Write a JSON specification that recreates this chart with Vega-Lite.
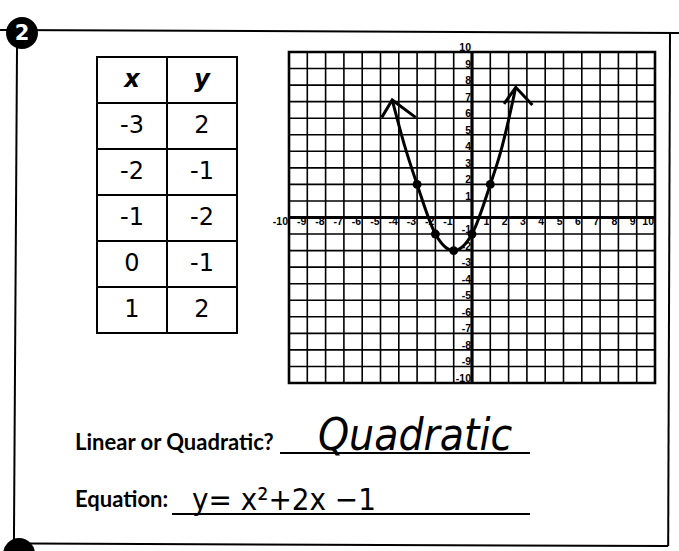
{
  "$schema": "https://vega.github.io/schema/vega-lite/v6.json",
  "width": 366,
  "height": 331,
  "autosize": {"type": "none"},
  "padding": {"left": 289, "top": 52, "right": 24, "bottom": 168},
  "background": "white",
  "config": {"view": {"stroke": null}},
  "datasets": {
    "pts": [
      {"x": -3, "y": 2},
      {"x": -2, "y": -1},
      {"x": -1, "y": -2},
      {"x": 0, "y": -1},
      {"x": 1, "y": 2}
    ],
    "hdr": [{"col": "x"}, {"col": "y"}],
    "grid": [
      {"g": -10}, {"g": -9}, {"g": -8}, {"g": -7}, {"g": -6}, {"g": -5}, {"g": -4},
      {"g": -3}, {"g": -2}, {"g": -1}, {"g": 0}, {"g": 1}, {"g": 2}, {"g": 3},
      {"g": 4}, {"g": 5}, {"g": 6}, {"g": 7}, {"g": 8}, {"g": 9}, {"g": 10}
    ],
    "ticks": [
      {"v": -10}, {"v": -9}, {"v": -8}, {"v": -7}, {"v": -6}, {"v": -5}, {"v": -4},
      {"v": -3}, {"v": -2}, {"v": -1}, {"v": 1}, {"v": 2}, {"v": 3},
      {"v": 4}, {"v": 5}, {"v": 6}, {"v": 7}, {"v": 8}, {"v": 9}, {"v": 10}
    ],
    "curve": [
      {"x": -4.36, "y": 7.1},
      {"x": -3.7, "y": 4.4},
      {"x": -3, "y": 2},
      {"x": -2, "y": -1},
      {"x": -1, "y": -2},
      {"x": 0, "y": -1},
      {"x": 1, "y": 2},
      {"x": 1.55, "y": 3.9},
      {"x": 2.0, "y": 5.9},
      {"x": 2.39, "y": 7.87}
    ],
    "arrows": [
      {"arm": "L", "x": -4.93, "y": 6.05},
      {"arm": "L", "x": -4.36, "y": 7.1},
      {"arm": "L", "x": -3.08, "y": 6.05},
      {"arm": "R", "x": 1.75, "y": 6.86},
      {"arm": "R", "x": 2.39, "y": 7.87},
      {"arm": "R", "x": 3.3, "y": 6.8}
    ],
    "one": [{}]
  },
  "resolve": {"scale": {"x": "independent", "y": "independent"}},
  "layer": [
    {
      "layer": [
        {
          "data": {"name": "grid"},
          "mark": {"type": "rule", "color": "black", "strokeWidth": 1.6},
          "encoding": {
            "x": {"field": "g", "type": "quantitative", "scale": {"domain": [-10, 10], "nice": false, "zero": false}, "axis": null},
            "y": {"datum": -10, "scale": {"domain": [-10, 10], "nice": false, "zero": false}, "axis": null},
            "y2": {"datum": 10}
          }
        },
        {
          "data": {"name": "grid"},
          "mark": {"type": "rule", "color": "black", "strokeWidth": 1.6},
          "encoding": {
            "y": {"field": "g", "type": "quantitative", "scale": {"domain": [-10, 10], "nice": false, "zero": false}, "axis": null},
            "x": {"datum": -10, "scale": {"domain": [-10, 10], "nice": false, "zero": false}, "axis": null},
            "x2": {"datum": 10}
          }
        },
        {
          "data": {"name": "one"},
          "mark": {"type": "rect", "fillOpacity": 0, "stroke": "black", "strokeWidth": 2.6},
          "encoding": {
            "x": {"datum": -10, "scale": {"domain": [-10, 10], "nice": false, "zero": false}, "axis": null},
            "x2": {"datum": 10},
            "y": {"datum": -10, "scale": {"domain": [-10, 10], "nice": false, "zero": false}, "axis": null},
            "y2": {"datum": 10}
          }
        },
        {
          "data": {"name": "one"},
          "mark": {"type": "rule", "color": "black", "strokeWidth": 3.2},
          "encoding": {
            "x": {"datum": 0, "scale": {"domain": [-10, 10], "nice": false, "zero": false}, "axis": null},
            "y": {"datum": -10, "scale": {"domain": [-10, 10], "nice": false, "zero": false}, "axis": null},
            "y2": {"datum": 10}
          }
        },
        {
          "data": {"name": "one"},
          "mark": {"type": "rule", "color": "black", "strokeWidth": 3.2},
          "encoding": {
            "y": {"datum": 0, "scale": {"domain": [-10, 10], "nice": false, "zero": false}, "axis": null},
            "x": {"datum": -10, "scale": {"domain": [-10, 10], "nice": false, "zero": false}, "axis": null},
            "x2": {"datum": 10}
          }
        },
        {
          "data": {"name": "ticks"},
          "mark": {"type": "text", "font": "Liberation Sans", "fontWeight": "bold", "fontSize": 10.5, "align": "right", "baseline": "middle", "dx": -1, "dy": 4, "color": "black"},
          "encoding": {
            "x": {"field": "v", "type": "quantitative", "scale": {"domain": [-10, 10], "nice": false, "zero": false}, "axis": null},
            "y": {"datum": 0, "scale": {"domain": [-10, 10], "nice": false, "zero": false}, "axis": null},
            "text": {"field": "v", "type": "nominal"}
          }
        },
        {
          "data": {"name": "ticks"},
          "mark": {"type": "text", "font": "Liberation Sans", "fontWeight": "bold", "fontSize": 10.5, "align": "right", "baseline": "middle", "dx": -1, "dy": -4, "color": "black"},
          "encoding": {
            "y": {"field": "v", "type": "quantitative", "scale": {"domain": [-10, 10], "nice": false, "zero": false}, "axis": null},
            "x": {"datum": 0, "scale": {"domain": [-10, 10], "nice": false, "zero": false}, "axis": null},
            "text": {"field": "v", "type": "nominal"}
          }
        },
        {
          "data": {"name": "curve"},
          "mark": {"type": "line", "color": "black", "strokeWidth": 3, "interpolate": "monotone"},
          "encoding": {
            "x": {"field": "x", "type": "quantitative", "scale": {"domain": [-10, 10], "nice": false, "zero": false}, "axis": null},
            "y": {"field": "y", "type": "quantitative", "scale": {"domain": [-10, 10], "nice": false, "zero": false}, "axis": null}
          }
        },
        {
          "data": {"name": "arrows"},
          "mark": {"type": "line", "color": "black", "strokeWidth": 3},
          "encoding": {
            "x": {"field": "x", "type": "quantitative", "scale": {"domain": [-10, 10], "nice": false, "zero": false}, "axis": null},
            "y": {"field": "y", "type": "quantitative", "scale": {"domain": [-10, 10], "nice": false, "zero": false}, "axis": null},
            "detail": {"field": "arm", "type": "nominal"}
          }
        },
        {
          "data": {"name": "pts"},
          "mark": {"type": "point", "filled": true, "color": "black", "size": 80, "opacity": 1},
          "encoding": {
            "x": {"field": "x", "type": "quantitative", "scale": {"domain": [-10, 10], "nice": false, "zero": false}, "axis": null},
            "y": {"field": "y", "type": "quantitative", "scale": {"domain": [-10, 10], "nice": false, "zero": false}, "axis": null}
          }
        },
        {
          "data": {"name": "one"},
          "mark": {"type": "rule", "color": "black", "strokeWidth": 2},
          "encoding": {
            "x": {"datum": -25.79, "scale": {"domain": [-10, 10], "nice": false, "zero": false}, "axis": null},
            "x2": {"datum": 11.31},
            "y": {"datum": 11.33, "scale": {"domain": [-10, 10], "nice": false, "zero": false}, "axis": null},
            "y2": {"datum": 11.15}
          }
        },
        {
          "data": {"name": "one"},
          "mark": {"type": "rule", "color": "black", "strokeWidth": 2},
          "encoding": {
            "x": {"datum": 10.82, "scale": {"domain": [-10, 10], "nice": false, "zero": false}, "axis": null},
            "x2": {"datum": 10.72},
            "y": {"datum": 11.2, "scale": {"domain": [-10, 10], "nice": false, "zero": false}, "axis": null},
            "y2": {"datum": -19.85}
          }
        },
        {
          "data": {"name": "one"},
          "mark": {"type": "rule", "color": "black", "strokeWidth": 2},
          "encoding": {
            "x": {"datum": -24.15, "scale": {"domain": [-10, 10], "nice": false, "zero": false}, "axis": null},
            "x2": {"datum": 10.72},
            "y": {"datum": -19.7, "scale": {"domain": [-10, 10], "nice": false, "zero": false}, "axis": null},
            "y2": {"datum": -19.85}
          }
        },
        {
          "data": {"name": "one"},
          "mark": {"type": "rule", "color": "black", "strokeWidth": 2},
          "encoding": {
            "x": {"datum": -24.86, "scale": {"domain": [-10, 10], "nice": false, "zero": false}, "axis": null},
            "x2": {"datum": -25.03},
            "y": {"datum": 10.73, "scale": {"domain": [-10, 10], "nice": false, "zero": false}, "axis": null},
            "y2": {"datum": -19.49}
          }
        },
        {
          "data": {"name": "one"},
          "mark": {"type": "point", "filled": true, "color": "black", "opacity": 1, "size": 1020},
          "encoding": {
            "x": {"datum": -24.59, "scale": {"domain": [-10, 10], "nice": false, "zero": false}, "axis": null},
            "y": {"datum": 11.15, "scale": {"domain": [-10, 10], "nice": false, "zero": false}, "axis": null}
          }
        },
        {
          "data": {"name": "one"},
          "mark": {"type": "point", "filled": true, "color": "black", "opacity": 1, "size": 1020},
          "encoding": {
            "x": {"datum": -24.75, "scale": {"domain": [-10, 10], "nice": false, "zero": false}, "axis": null},
            "y": {"datum": -20.33, "scale": {"domain": [-10, 10], "nice": false, "zero": false}, "axis": null}
          }
        },
        {
          "data": {"values": [{"n": "2"}]},
          "mark": {"type": "text", "font": "DejaVu Sans", "fontWeight": "bold", "fontSize": 21, "color": "white", "align": "center", "baseline": "middle", "dy": 1},
          "encoding": {
            "x": {"datum": -24.59, "scale": {"domain": [-10, 10], "nice": false, "zero": false}, "axis": null},
            "y": {"datum": 11.15, "scale": {"domain": [-10, 10], "nice": false, "zero": false}, "axis": null},
            "text": {"field": "n", "type": "nominal"}
          }
        },
        {
          "data": {"values": [{"t": "Linear or Quadratic?"}]},
          "mark": {"type": "text", "font": "Lato", "fontWeight": "bold", "fontSize": 22, "color": "black", "align": "left", "baseline": "alphabetic"},
          "encoding": {
            "x": {"datum": -21.69, "scale": {"domain": [-10, 10], "nice": false, "zero": false}, "axis": null},
            "y": {"datum": -14.05, "scale": {"domain": [-10, 10], "nice": false, "zero": false}, "axis": null},
            "text": {"field": "t", "type": "nominal"}
          }
        },
        {
          "data": {"values": [{"t": "Equation:"}]},
          "mark": {"type": "text", "font": "Lato", "fontWeight": "bold", "fontSize": 22, "color": "black", "align": "left", "baseline": "alphabetic"},
          "encoding": {
            "x": {"datum": -21.69, "scale": {"domain": [-10, 10], "nice": false, "zero": false}, "axis": null},
            "y": {"datum": -17.5, "scale": {"domain": [-10, 10], "nice": false, "zero": false}, "axis": null},
            "text": {"field": "t", "type": "nominal"}
          }
        },
        {
          "data": {"name": "one"},
          "mark": {"type": "rule", "color": "black", "strokeWidth": 2},
          "encoding": {
            "x": {"datum": -10.49, "scale": {"domain": [-10, 10], "nice": false, "zero": false}, "axis": null},
            "x2": {"datum": 3.17},
            "y": {"datum": -14.23, "scale": {"domain": [-10, 10], "nice": false, "zero": false}, "axis": null}
          }
        },
        {
          "data": {"name": "one"},
          "mark": {"type": "rule", "color": "black", "strokeWidth": 2},
          "encoding": {
            "x": {"datum": -16.39, "scale": {"domain": [-10, 10], "nice": false, "zero": false}, "axis": null},
            "x2": {"datum": 3.17},
            "y": {"datum": -17.92, "scale": {"domain": [-10, 10], "nice": false, "zero": false}, "axis": null}
          }
        },
        {
          "data": {"values": [{"t": "Quadratic"}]},
          "mark": {"type": "text", "font": "DejaVu Sans Condensed, DejaVu Sans", "fontSize": 44, "fontStyle": "italic", "color": "black", "align": "left", "baseline": "alphabetic"},
          "encoding": {
            "x": {"datum": -8.42, "scale": {"domain": [-10, 10], "nice": false, "zero": false}, "axis": null},
            "y": {"datum": -14.05, "scale": {"domain": [-10, 10], "nice": false, "zero": false}, "axis": null},
            "text": {"field": "t", "type": "nominal"}
          }
        },
        {
          "data": {"values": [{"t": "y= x²+2x −1"}]},
          "mark": {"type": "text", "font": "DejaVu Sans Condensed, DejaVu Sans", "fontSize": 31, "color": "black", "align": "left", "baseline": "alphabetic"},
          "encoding": {
            "x": {"datum": -15.3, "scale": {"domain": [-10, 10], "nice": false, "zero": false}, "axis": null},
            "y": {"datum": -17.67, "scale": {"domain": [-10, 10], "nice": false, "zero": false}, "axis": null},
            "text": {"field": "t", "type": "nominal"}
          }
        }
      ]
    },
    {
      "layer": [
        {
          "data": {"name": "hdr"},
          "mark": {"type": "rect", "fill": "white", "stroke": "black", "strokeWidth": 2},
          "encoding": {
            "x": {"field": "col", "type": "nominal", "scale": {"type": "band", "domain": ["x", "y"], "range": [-192, -52], "paddingInner": 0, "paddingOuter": 0}, "axis": null},
            "y": {"datum": "h", "type": "ordinal", "scale": {"type": "band", "domain": ["h", -3, -2, -1, 0, 1], "range": [5, 281], "paddingInner": 0, "paddingOuter": 0}, "axis": null}
          }
        },
        {
          "data": {"name": "pts"},
          "transform": [{"fold": ["x", "y"], "as": ["col", "val"]}],
          "mark": {"type": "rect", "fill": "white", "stroke": "black", "strokeWidth": 2},
          "encoding": {
            "x": {"field": "col", "type": "nominal", "scale": {"type": "band", "domain": ["x", "y"], "range": [-192, -52], "paddingInner": 0, "paddingOuter": 0}, "axis": null},
            "y": {"field": "x", "type": "ordinal", "scale": {"type": "band", "domain": ["h", -3, -2, -1, 0, 1], "range": [5, 281], "paddingInner": 0, "paddingOuter": 0}, "axis": null}
          }
        },
        {
          "data": {"name": "hdr"},
          "mark": {"type": "text", "font": "DejaVu Sans", "fontSize": 24, "fontWeight": "bold", "fontStyle": "italic", "color": "black", "baseline": "middle", "align": "center"},
          "encoding": {
            "x": {"field": "col", "type": "nominal", "scale": {"type": "band", "domain": ["x", "y"], "range": [-192, -52], "paddingInner": 0, "paddingOuter": 0}, "axis": null},
            "y": {"datum": "h", "type": "ordinal", "scale": {"type": "band", "domain": ["h", -3, -2, -1, 0, 1], "range": [5, 281], "paddingInner": 0, "paddingOuter": 0}, "axis": null},
            "text": {"field": "col", "type": "nominal"}
          }
        },
        {
          "data": {"name": "pts"},
          "transform": [{"fold": ["x", "y"], "as": ["col", "val"]}],
          "mark": {"type": "text", "font": "DejaVu Sans", "fontSize": 24, "color": "black", "baseline": "middle", "align": "center"},
          "encoding": {
            "x": {"field": "col", "type": "nominal", "scale": {"type": "band", "domain": ["x", "y"], "range": [-192, -52], "paddingInner": 0, "paddingOuter": 0}, "axis": null},
            "y": {"field": "x", "type": "ordinal", "scale": {"type": "band", "domain": ["h", -3, -2, -1, 0, 1], "range": [5, 281], "paddingInner": 0, "paddingOuter": 0}, "axis": null},
            "text": {"field": "val", "type": "nominal"}
          }
        }
      ]
    }
  ]
}
